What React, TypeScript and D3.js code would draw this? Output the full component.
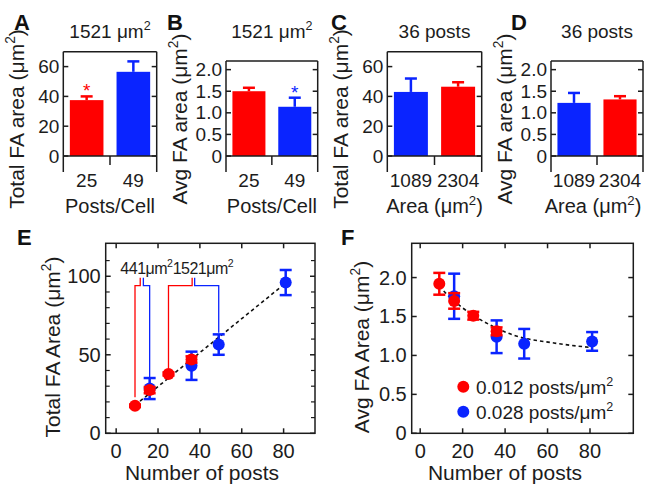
import React from "react";
import * as d3 from "d3";

const RED = "#ff0000";
const BLUE = "#0a24ff";
const FONT = "'Liberation Sans', Arial, Helvetica, sans-serif";
const INK = "#1c1c1c";

// ---- Panels A-D (bar charts) ----
const postsCats = ["25", "49"];
const areaCats = ["1089", "2304"];
const totalAreaA = [37.5, 56.5];
const totalAreaAErr = [2.5, 7];
const avgAreaB = [1.5, 1.14];
const avgAreaBErr = [0.08, 0.21];
const totalAreaC = [43, 46.5];
const totalAreaCErr = [9, 3];
const avgAreaD = [1.23, 1.31];
const avgAreaDErr = [0.23, 0.075];
const totalTicks = [0, 20, 40, 60];
const avgTicks = [0, 0.5, 1.0, 1.5, 2.0];

// ---- Panels E-F (scatter) ----
const postsRed = [9, 16, 25, 36];
const postsBlue = [16, 36, 49, 81];
const totalRed = [17.5, 27.5, 37.8, 47];
const totalRedErr = [0.8, 2, 1, 2];
const totalBlue = [28.5, 43, 56.5, 96];
const totalBlueErr = [6.7, 9, 6.5, 8];
const avgRed = [1.92, 1.7, 1.51, 1.31];
const avgRedErr = [0.14, 0.1, 0.05, 0.05];
const avgBlue = [1.76, 1.24, 1.15, 1.18];
const avgBlueErr = [0.29, 0.21, 0.19, 0.12];
const fitTotalX = [9, 81];
const fitTotalY = [17.9, 95.7];
const fitAvgX = [9, 12, 20, 33, 44, 63, 81];
const fitAvgY = [1.89, 1.8, 1.61, 1.39, 1.26, 1.16, 1.1];
const postTicks = [0, 20, 40, 60, 80];
const totalEMajor = [0, 50, 100];
const totalEMinor = [10, 20, 30, 40, 60, 70, 80, 90, 110];
const avgFMajor = [0, 0.5, 1.0, 1.5, 2.0];

// bracket annotations in E
const bracketLabels = ["441", "1521"];
const bracketLabelX = [2, 27];
const bracketRedX = [9, 25];
const bracketRedStem = [11.5, 36.3];
const bracketBlueStem = [13, 37.5];
const bracketBlueX = [16, 49];
const bracketRedBottom = [23, 40.5];
const bracketBlueBottom = [35.5, 64];
const bracketJoinY = 94;
const bracketTopY = 99;
const bracketLabelY = 101.5;

const legendLabels = ["0.012 posts/", "0.028 posts/"];

const TICK_FS = 19;
const TITLE_FS = 19;
const AXIS_FS = 21;
const XLAB_FS = 20;

function MuSq({ fs }: { fs: number }) {
  const sh = fs * 0.42;
  return (
    <>
      {"μm"}
      <tspan dy={-sh} fontSize={fs * 0.66}>2</tspan>
      <tspan dy={sh}>{""}</tspan>
    </>
  );
}

function Unit({ fs }: { fs: number }) {
  const sh = fs * 0.42;
  return (
    <>
      {"(μm"}
      <tspan dy={-sh} fontSize={fs * 0.66}>2</tspan>
      <tspan dy={sh}>)</tspan>
    </>
  );
}

type BarProps = {
  L: number; R: number; T: number; B: number;
  max: number; ticks: number[]; fmt: (d: number) => string;
  cats: string[]; vals: number[]; errs: number[]; colors: string[];
  title: React.ReactNode; xlabel: React.ReactNode; ylabel: React.ReactNode;
  letter: string; letterX: number; star?: number; xlabelShift?: number;
};

function BarPanel(p: BarProps) {
  const x = d3.scaleBand().domain(p.cats).range([p.L, p.R]).paddingInner(0.28).paddingOuter(0.14);
  const y = d3.scaleLinear().domain([0, p.max]).range([p.B, p.T]);
  const bw = x.bandwidth();
  const mid = (p.L + p.R) / 2;
  const boundary = (x(p.cats[1]) as number) - (x.step() * x.paddingInner()) / 2;
  return (
    <g>
      {p.vals.map((v, i) => {
        const cx = (x(p.cats[i]) as number) + bw / 2;
        return (
          <g key={i}>
            <line x1={cx} x2={cx} y1={y(v)} y2={y(v + p.errs[i])} stroke={p.colors[i]} strokeWidth={2.5} />
            <line x1={cx - 6} x2={cx + 6} y1={y(v + p.errs[i])} y2={y(v + p.errs[i])} stroke={p.colors[i]} strokeWidth={2.5} />
            <rect x={x(p.cats[i])} y={y(v)} width={bw} height={y(0) - y(v)} fill={p.colors[i]} />
            {p.star === i && (
              <text x={cx} y={y(v + p.errs[i]) + 1} textAnchor="middle" fontSize={19} fill={p.colors[i]} fontFamily={FONT}>*</text>
            )}
          </g>
        );
      })}
      {/* frame */}
      <line x1={p.L} x2={p.R} y1={p.T} y2={p.T} stroke={INK} strokeWidth={1.5} />
      <line x1={p.L} x2={p.R} y1={p.B} y2={p.B} stroke={INK} strokeWidth={1.5} />
      <line x1={p.L} x2={p.L} y1={p.T} y2={p.B + 16} stroke={INK} strokeWidth={1.5} />
      <line x1={p.R} x2={p.R} y1={p.T} y2={p.B + 16} stroke={INK} strokeWidth={1.5} />
      <line x1={boundary} x2={boundary} y1={p.B} y2={p.B + 9} stroke={INK} strokeWidth={1.5} />
      {p.ticks.map((t) => (
        <g key={t}>
          <line x1={p.L} x2={p.L + 5} y1={y(t)} y2={y(t)} stroke={INK} strokeWidth={1.5} />
          <line x1={p.R} x2={p.R - 5} y1={y(t)} y2={y(t)} stroke={INK} strokeWidth={1.5} />
          <text x={p.L - 4} y={y(t)} dy="0.35em" textAnchor="end" fontSize={TICK_FS} fill={INK} fontFamily={FONT}>{p.fmt(t)}</text>
        </g>
      ))}
      {p.cats.map((c) => (
        <text key={c} x={(x(c) as number) + bw / 2} y={p.B + 31} textAnchor="middle" fontSize={TICK_FS} fill={INK} fontFamily={FONT}>{c}</text>
      ))}
      <text x={mid} y={37.5} textAnchor="middle" fontSize={TITLE_FS} fill={INK} fontFamily={FONT}>{p.title}</text>
      <text x={mid + (p.xlabelShift || 0)} y={213} textAnchor="middle" fontSize={XLAB_FS} fill={INK} fontFamily={FONT}>{p.xlabel}</text>
      <text transform={`translate(${p.L - 39},119) rotate(-90)`} textAnchor="middle" fontSize={AXIS_FS} fill={INK} fontFamily={FONT}>{p.ylabel}</text>
      <text x={p.letterX} y={30} fontSize={22} fontWeight="bold" fill="#111" fontFamily={FONT}>{p.letter}</text>
    </g>
  );
}

type ScatterProps = {
  L: number; R: number; T: number; B: number;
  xDom: [number, number]; yDom: [number, number];
  yMajor: number[]; yMinor: number[]; yFmt: (d: number) => string;
  fitX: number[]; fitY: number[]; curve: d3.CurveFactory;
  ylabel: React.ReactNode; letter: string; letterX: number; xlabelX: number; ylabelX: number;
  redY: number[]; redE: number[]; blueY: number[]; blueE: number[];
  extra?: (x: d3.ScaleLinear<number, number>, y: d3.ScaleLinear<number, number>) => React.ReactNode;
};

function ErrPoint({ cx, y, v, e, color }: { cx: number; y: d3.ScaleLinear<number, number>; v: number; e: number; color: string }) {
  return (
    <g>
      <line x1={cx} x2={cx} y1={y(v - e)} y2={y(v + e)} stroke={color} strokeWidth={2.5} />
      <line x1={cx - 6} x2={cx + 6} y1={y(v - e)} y2={y(v - e)} stroke={color} strokeWidth={2.5} />
      <line x1={cx - 6} x2={cx + 6} y1={y(v + e)} y2={y(v + e)} stroke={color} strokeWidth={2.5} />
      <circle cx={cx} cy={y(v)} r={6} fill={color} />
    </g>
  );
}

function ScatterPanel(p: ScatterProps) {
  const x = d3.scaleLinear().domain(p.xDom).range([p.L, p.R]);
  const y = d3.scaleLinear().domain(p.yDom).range([p.B, p.T]);
  const line = d3.line<number>().x((_, i) => x(p.fitX[i])).y((d) => y(d)).curve(p.curve);
  return (
    <g>
      {p.extra && p.extra(x, y)}
      <path d={line(p.fitY) || ""} fill="none" stroke="#111" strokeWidth={1.6} strokeDasharray="3.5,3" />
      {postsBlue.map((px, i) => (
        <ErrPoint key={"b" + i} cx={x(px)} y={y} v={p.blueY[i]} e={p.blueE[i]} color={BLUE} />
      ))}
      {postsRed.map((px, i) => (
        <ErrPoint key={"r" + i} cx={x(px)} y={y} v={p.redY[i]} e={p.redE[i]} color={RED} />
      ))}
      <rect x={p.L} y={p.T} width={p.R - p.L} height={p.B - p.T} fill="none" stroke={INK} strokeWidth={1.5} />
      {p.yMajor.map((t) => (
        <g key={"ym" + t}>
          <line x1={p.L} x2={p.L + 5} y1={y(t)} y2={y(t)} stroke={INK} strokeWidth={1.5} />
          <line x1={p.R} x2={p.R - 5} y1={y(t)} y2={y(t)} stroke={INK} strokeWidth={1.5} />
          <text x={p.L - 5} y={y(t)} dy="0.35em" textAnchor="end" fontSize={TICK_FS + 1} fill={INK} fontFamily={FONT}>{p.yFmt(t)}</text>
        </g>
      ))}
      {p.yMinor.map((t) => (
        <g key={"yn" + t}>
          <line x1={p.L} x2={p.L + 4} y1={y(t)} y2={y(t)} stroke={INK} strokeWidth={1.2} />
          <line x1={p.R} x2={p.R - 4} y1={y(t)} y2={y(t)} stroke={INK} strokeWidth={1.2} />
        </g>
      ))}
      {postTicks.map((t) => (
        <g key={"x" + t}>
          <line x1={x(t)} x2={x(t)} y1={p.B} y2={p.B - 5} stroke={INK} strokeWidth={1.5} />
          <line x1={x(t)} x2={x(t)} y1={p.T} y2={p.T + 5} stroke={INK} strokeWidth={1.5} />
          <text x={x(t)} y={p.B + 25} textAnchor="middle" fontSize={TICK_FS + 1} fill={INK} fontFamily={FONT}>{t}</text>
        </g>
      ))}
      <text x={p.xlabelX} y={480} textAnchor="middle" fontSize={AXIS_FS} fill={INK} fontFamily={FONT}>Number of posts</text>
      <text transform={`translate(${p.ylabelX},347) rotate(-90)`} textAnchor="middle" fontSize={AXIS_FS} fill={INK} fontFamily={FONT}>{p.ylabel}</text>
      <text x={p.letterX} y={245} fontSize={22} fontWeight="bold" fill="#111" fontFamily={FONT}>{p.letter}</text>
    </g>
  );
}

function brackets(x: d3.ScaleLinear<number, number>, y: d3.ScaleLinear<number, number>) {
  return (
    <g>
      {bracketLabels.map((lab, i) => (
        <g key={lab}>
          <path
            d={`M${x(bracketRedX[i])},${y(bracketRedBottom[i])}V${y(bracketJoinY)}H${x(bracketRedStem[i])}V${y(bracketTopY)}`}
            fill="none" stroke={RED} strokeWidth={1.3} />
          <path
            d={`M${x(bracketBlueStem[i])},${y(bracketTopY)}V${y(bracketJoinY)}H${x(bracketBlueX[i])}V${y(bracketBlueBottom[i])}`}
            fill="none" stroke={BLUE} strokeWidth={1.3} />
          <text x={x(bracketLabelX[i])} y={y(bracketLabelY)} fontSize={16} fill={INK} fontFamily={FONT} letterSpacing={-0.5}>
            {lab}<MuSq fs={16} />
          </text>
        </g>
      ))}
    </g>
  );
}

export default function App() {
  const f1 = (d: number) => (d === 0 ? "0" : d.toFixed(1));
  return (
    <svg width={645} height={486} style={{ position: "absolute", left: 0, top: 0, background: "#fff" }}>
      <BarPanel L={63.3} R={156.7} T={51.7} B={156} max={70} ticks={totalTicks} fmt={(d) => String(d)}
        cats={postsCats} vals={totalAreaA} errs={totalAreaAErr} colors={[RED, BLUE]}
        title={<>1521 <MuSq fs={TITLE_FS} /></>} xlabel="Posts/Cell" ylabel={<>Total FA area <Unit fs={AXIS_FS} /></>}
        letter="A" letterX={14} star={0} />
      <BarPanel L={226} R={317.7} T={61} B={156} max={2.2} ticks={avgTicks} fmt={f1}
        cats={postsCats} vals={avgAreaB} errs={avgAreaBErr} colors={[RED, BLUE]}
        title={<>1521 <MuSq fs={TITLE_FS} /></>} xlabel="Posts/Cell" ylabel={<>Avg FA area <Unit fs={AXIS_FS} /></>}
        letter="B" letterX={167} star={1} />
      <BarPanel L={387.3} R={481.7} T={51.7} B={156} max={70} ticks={totalTicks} fmt={(d) => String(d)}
        cats={areaCats} vals={totalAreaC} errs={totalAreaCErr} colors={[BLUE, RED]}
        title="36 posts" xlabel={<>Area <Unit fs={XLAB_FS} /></>} ylabel={<>Total FA area <Unit fs={AXIS_FS} /></>}
        letter="C" letterX={331} />
      <BarPanel L={551} R={643} T={61} B={156} max={2.2} ticks={avgTicks} fmt={f1}
        cats={areaCats} vals={avgAreaD} errs={avgAreaDErr} colors={[BLUE, RED]}
        title="36 posts" xlabel={<>Area <Unit fs={XLAB_FS} /></>} ylabel={<>Avg FA area <Unit fs={AXIS_FS} /></>}
        letter="D" letterX={511} xlabelShift={-4} />
      <ScatterPanel L={105.7} R={315} T={243.3} B={433.3} xDom={[-5, 95]} yDom={[0, 121]}
        yMajor={totalEMajor} yMinor={totalEMinor} yFmt={(d) => String(d)}
        fitX={fitTotalX} fitY={fitTotalY} curve={d3.curveLinear}
        ylabel={<>Total FA Area <Unit fs={AXIS_FS} /></>} letter="E" letterX={17} xlabelX={202} ylabelX={60}
        redY={totalRed} redE={totalRedErr} blueY={totalBlue} blueE={totalBlueErr} extra={brackets} />
      <ScatterPanel L={411.7} R={633.3} T={243.3} B={433.3} xDom={[-4, 100.4]} yDom={[0, 2.44]}
        yMajor={avgFMajor} yMinor={[]} yFmt={f1}
        fitX={fitAvgX} fitY={fitAvgY} curve={d3.curveMonotoneX}
        ylabel={<>Avg FA Area <Unit fs={AXIS_FS} /></>} letter="F" letterX={341} xlabelX={505} ylabelX={369}
        redY={avgRed} redE={avgRedErr} blueY={avgBlue} blueE={avgBlueErr} />
      {/* legend in F */}
      {legendLabels.map((lab, i) => (
        <g key={lab}>
          <circle cx={463.3} cy={386.7 + i * 25} r={6} fill={i === 0 ? RED : BLUE} />
          <text x={476} y={393.5 + i * 25} fontSize={19} fill={INK} fontFamily={FONT}>
            {lab}<MuSq fs={19} />
          </text>
        </g>
      ))}
    </svg>
  );
}
